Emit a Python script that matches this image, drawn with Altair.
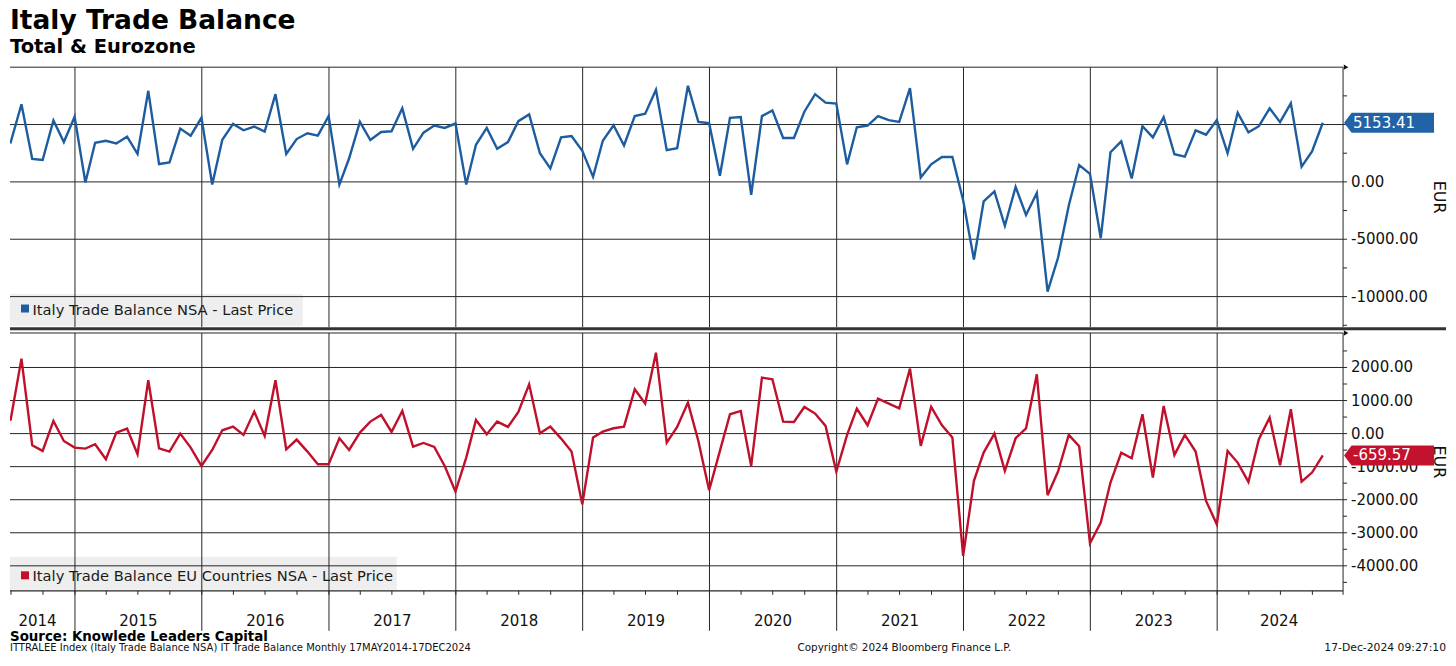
import altair as alt
import pandas as pd

# ---------------- text ----------------
TITLE = "Italy Trade Balance"
SUBTITLE = "Total & Eurozone"
SERIES_TOTAL = "Italy Trade Balance NSA - Last Price"
SERIES_EU = "Italy Trade Balance EU Countries NSA - Last Price"
SOURCE = "Source: Knowlede Leaders Capital"
FOOT_LEFT = "ITTRALEE Index (Italy Trade Balance NSA) IT Trade Balance  Monthly 17MAY2014-17DEC2024"
FOOT_MID = "Copyright\u00a9 2024 Bloomberg Finance L.P."
FOOT_RIGHT = "17-Dec-2024 09:27:10"
UNIT = "EUR"

years = list(range(2014, 2025))

# ---------------- data (EUR mn, monthly, May 2014 - Oct 2024) ----------------
total = [
    3618, 3441, 6765, 2000, 1912, 5353, 3470, 5676,                               # 2014 May-Dec
    -50, 3412, 3588, 3353, 3941, 2441, 7941, 1559, 1706, 4647, 4029, 5588,       # 2015
    -235, 3676, 5059, 4500, 4824, 4382, 7647, 2441, 3735, 4235, 4029, 5735,      # 2016
    -235, 2059, 5235, 3647, 4353, 4412, 6412, 2882, 4294, 4912, 4706, 5088,      # 2017
    -235, 3235, 4706, 2882, 3470, 5294, 5882, 2500, 1176, 3882, 4000, 2706,      # 2018
    441, 3588, 4941, 3176, 5735, 5941, 8029, 2765, 2941, 8382, 5235, 5118,       # 2019
    529, 5588, 5647, -1118, 5735, 6235, 3824, 3824, 6118, 7647, 6912, 6824,      # 2020
    1529, 4765, 4912, 5735, 5382, 5235, 8176, 382, 1529, 2176, 2176, -1600,      # 2021
    -6765, -1706, -824, -3824, -441, -2882, -971, -9559, -6618, -2059, 1471, 706,  # 2022
    -4912, 2588, 3529, 294, 4853, 3882, 5647, 2412, 2206, 4500, 4118, 5382,      # 2023
    2500, 6029, 4324, 4853, 6412, 5206, 6853, 1324, 2647, 5153.41,               # 2024 Jan-Oct
]
eu = [
    403, 423, 2268, -353, -524, 383, -222, -423,                                  # 2014 May-Dec
    -454, -323, -776, 30, 151, -625, 1613, -444, -544, 0, -423, -978,            # 2015
    -494, 101, 212, -40, 665, -71, 1613, -474, -181, -544, -927, -927,           # 2016
    -141, -494, 30, 363, 565, 50, 685, -393, -282, -403, -978, -1754,            # 2017
    -726, 413, -20, 363, 202, 655, 1492, 10, 212, -151, -544, -2137,             # 2018
    -121, 60, 161, 212, 1341, 907, 2449, -272, 202, 937, -222, -1714,            # 2019
    -524, 585, 685, -978, 1693, 1643, 363, 353, 806, 605, 232, -1149,            # 2020
    -40, 756, 252, 1058, 907, 766, 1966, -373, 806, 252, -121, -3700,            # 2021
    -1431, -575, 0, -1129, -141, 161, 1794, -1865, -1149, -40, -383, -3316,      # 2022
    -2691, -1482, -575, -746, 585, -1331, 837, -645, -40, -544, -2036, -2742,    # 2023
    -524, -877, -1462, -171, 484, -958, 736, -1452, -1179, -659.57,              # 2024 Jan-Oct
]

top_ticks = [7500, 5000, 2500, 0, -2500, -5000, -7500, -10000, -12500]
top_labels = [5000, 0, -5000, -10000]
bot_ticks = [2500, 2000, 1500, 1000, 500, 0, -500, -1000, -1500, -2000, -2500, -3000, -3500, -4000, -4500]
bot_labels = [2000, 1000, 0, -1000, -2000, -3000, -4000]


def ms(ts):
    return int(pd.Timestamp(ts, tz="UTC").value // 10**6)


month_ends = pd.date_range("2014-06-01", periods=len(total), freq="MS", tz="UTC") - pd.Timedelta(days=1)
month_ms = [int(t.value // 10**6) for t in month_ends]

T0 = ms("2014-06-28 01:00")
T1 = ms("2024-12-28 08:00")
year_starts = [ms(f"{y}-01-01") for y in years[1:]]
label_pos = []
for y in years:
    a = max(ms(f"{y}-01-01"), ms("2014-05-30 08:00"))
    b = min(ms(f"{y + 1}-01-01"), ms("2024-12-22 14:00"))
    label_pos.append((a + b) / 2)
quarters = pd.date_range("2014-07-01", "2024-10-01", freq="QS", tz="UTC")
quarter_ms = [int(t.value // 10**6) for t in quarters]

# ---------------- style ----------------
W, H1, H2 = 1334, 260, 258
BLUE = "#1d5d9f"
BLUE_TAG = "#2163a6"
RED = "#c0102b"
RED_TAG = "#c3122e"
GRID = "#262626"
FONT = "DejaVu Sans"
TAG_PATH = "M 0 0 L 0.75 -1 L 9 -1 L 9 1 L 0.75 1 Z"

xs = alt.Scale(domain=[T0, T1])
ys_top = alt.Scale(domain=[-12650, 10000], nice=False, zero=False)
ys_bot = alt.Scale(domain=[-4756, 3043], nice=False, zero=False)

one = pd.DataFrame({"a": [0]})
df_top = pd.DataFrame({"t": month_ms, "v": total})
df_bot = pd.DataFrame({"t": month_ms, "v": eu})
df_years = pd.DataFrame({"t": year_starts})
df_labels = pd.DataFrame({"t": label_pos, "label": [str(y) for y in years]})
df_quarters = pd.DataFrame({"t": quarter_ms})


def fmt(v):
    return f"{v:.2f}"


def panel(df, ys, ticks, labels, h, color, tag_color, legend_text, box_w, box_y, box_y2,
          sq_y, text_y, extra_bottom, axis_extra):
    Y = lambda: alt.Y("v:Q", scale=ys, axis=None)
    X = lambda: alt.X("t:T", scale=xs, axis=None)
    L = []
    # legend box
    L.append(alt.Chart(one).mark_rect(color="#eeeeee").encode(
        x=alt.value(0), x2=alt.value(box_w), y=alt.value(box_y), y2=alt.value(box_y2)))
    # horizontal grid at labelled values
    L.append(alt.Chart(pd.DataFrame({"v": labels})).mark_rule(color=GRID, strokeWidth=1).encode(
        x=alt.value(0), x2=alt.value(W), y=Y()))
    # year lines
    L.append(alt.Chart(df_years).mark_rule(color=GRID, strokeWidth=1).encode(
        x=X(), y=alt.value(0), y2=alt.value(h + extra_bottom)))
    # top frame + arrow
    L.append(alt.Chart(one).mark_rule(color=GRID, strokeWidth=1).encode(
        x=alt.value(0), x2=alt.value(W), y=alt.value(0)))
    L.append(alt.Chart(one).mark_point(shape="triangle-right", filled=True, size=28, color="#111111",
                                       opacity=1).encode(x=alt.value(W + 3), y=alt.value(0)))
    # right axis: line, ticks, labels, title
    L.append(alt.Chart(one).mark_rule(color=GRID, strokeWidth=1).encode(
        x=alt.value(W), y=alt.value(0), y2=alt.value(h + axis_extra)))
    L.append(alt.Chart(pd.DataFrame({"v": ticks})).mark_rule(color=GRID, strokeWidth=1).encode(
        x=alt.value(W), x2=alt.value(W + 4), y=Y()))
    L.append(alt.Chart(pd.DataFrame({"v": labels, "s": [fmt(v) for v in labels]})).mark_text(
        align="left", baseline="middle", font=FONT, fontSize=15, color="#111111").encode(
        x=alt.value(W + 8), y=Y(), text="s:N"))
    L.append(alt.Chart(one).mark_text(text=UNIT, angle=90, align="center", baseline="middle", font=FONT,
                                      fontSize=16, color="#111111").encode(
        x=alt.value(W + 96), y=alt.value(h / 2)))
    # series
    L.append(alt.Chart(df).mark_line(color=color, strokeWidth=2.4, clip=True).encode(x=X(), y=Y()))
    # legend entry
    L.append(alt.Chart(one).mark_square(color=color, size=64, opacity=1).encode(
        x=alt.value(15), y=alt.value(sq_y)))
    L.append(alt.Chart(one).mark_text(text=legend_text, align="left", baseline="alphabetic",
                                      font=FONT, fontSize=14.7, color="#1a1a1a").encode(
        x=alt.value(22.5), y=alt.value(text_y)))
    # last-value tag
    last = pd.DataFrame({"v": [df["v"].iloc[-1]], "label": [fmt(df["v"].iloc[-1])]})
    L.append(alt.Chart(last).mark_point(shape=TAG_PATH, filled=True, size=400, color=tag_color,
                                        opacity=1, strokeWidth=0).encode(x=alt.value(W + 1), y=Y()))
    L.append(alt.Chart(last).mark_text(align="left", baseline="middle", font=FONT, fontSize=15,
                                       color="white").encode(x=alt.value(W + 10), y=Y(), text="label:N"))
    return L


top_layers = panel(df_top, ys_top, top_ticks, top_labels, H1, BLUE, BLUE_TAG, SERIES_TOTAL,
                   293, 227, 259, 241.5, 248.3, 0, 0)
top_layers.append(alt.Chart(one).mark_text(text=TITLE, align="left", baseline="alphabetic", font=FONT,
                                           fontSize=26.5, fontWeight="bold", color="black").encode(
    x=alt.value(0), y=alt.value(-38)))
top_layers.append(alt.Chart(one).mark_text(text=SUBTITLE, align="left", baseline="alphabetic", font=FONT,
                                           fontSize=19.5, fontWeight="bold", color="black").encode(
    x=alt.value(0), y=alt.value(-13.7)))
top_layers.append(alt.Chart(one).mark_rule(color="#333333", strokeWidth=3).encode(
    x=alt.value(0), x2=alt.value(1437), y=alt.value(H1 + 1.7)))
top = alt.layer(*top_layers).properties(width=W, height=H1)

bot_layers = panel(df_bot, ys_bot, bot_ticks, bot_labels, H2, RED, RED_TAG, SERIES_EU,
                   387, 224, 257, 242.5, 248, 40, 4)
# bottom frame with quarterly ticks
bot_layers.append(alt.Chart(one).mark_rule(color=GRID, strokeWidth=1.2).encode(
    x=alt.value(0), x2=alt.value(W), y=alt.value(H2)))
bot_layers.append(alt.Chart(df_quarters).mark_rule(color=GRID, strokeWidth=1).encode(
    x=alt.X("t:T", scale=xs, axis=None), y=alt.value(H2), y2=alt.value(H2 + 4)))
bot_layers.append(alt.Chart(df_labels).mark_text(align="center", baseline="alphabetic", font=FONT,
                                                 fontSize=15, color="#111111").encode(
    x=alt.X("t:T", scale=xs, axis=None), y=alt.value(H2 + 35.5), text="label:N"))
bot_layers.append(alt.Chart(one).mark_text(text=SOURCE, align="left", baseline="alphabetic", font=FONT,
                                           fontSize=13.4, fontWeight="bold", color="black").encode(
    x=alt.value(0), y=alt.value(H2 + 50.5)))
bot_layers.append(alt.Chart(one).mark_text(text=FOOT_LEFT, align="left", baseline="alphabetic", font=FONT,
                                           fontSize=10, color="#111111").encode(
    x=alt.value(0), y=alt.value(H2 + 60.5)))
bot_layers.append(alt.Chart(one).mark_text(text=FOOT_MID, align="center", baseline="alphabetic", font=FONT,
                                           fontSize=10.4, color="#111111").encode(
    x=alt.value(895), y=alt.value(H2 + 60.5)))
bot_layers.append(alt.Chart(one).mark_text(text=FOOT_RIGHT, align="right", baseline="alphabetic", font=FONT,
                                           fontSize=10.8, color="#111111").encode(
    x=alt.value(1437), y=alt.value(H2 + 60.5)))
bottom = alt.layer(*bot_layers).properties(width=W, height=H2)

chart = alt.vconcat(top, bottom, spacing=6, bounds="flush").properties(
    padding=0,
    background="white",
).configure_view(stroke=None)

chart.save("out.html", embed_options={"renderer": "svg", "actions": False})
